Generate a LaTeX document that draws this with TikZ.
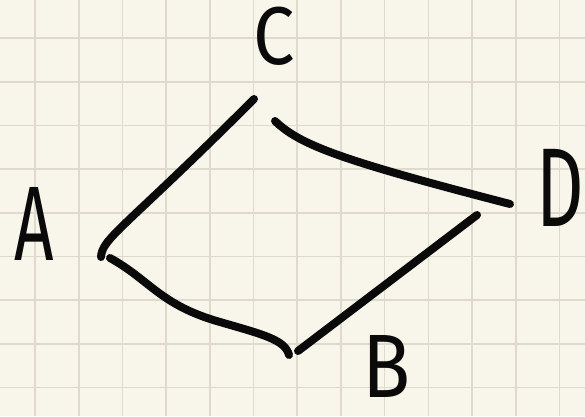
\documentclass[tikz,border=0pt]{standalone}
\usepackage{fontspec}
\setsansfont{Fira Sans}
\usepackage{tikz}
\usetikzlibrary{positioning}
\definecolor{paper}{RGB}{248,246,234}
\definecolor{paperline}{RGB}{222,219,206}
\definecolor{ink}{RGB}{10,10,10}

\begin{document}
\begin{tikzpicture}[
    x=1pt, y=-1pt,
    gridline/.style={paperline, line width=1.6pt},
    edge/.style={ink, line width=8pt, line cap=round, line join=round},
    letter/.style={inner sep=0pt, text=ink, font=\sffamily},
  ]
  % --- paper with grid ---
  \fill[paper] (0,0) rectangle (585,416);
  \useasboundingbox (0,0) rectangle (585,416);
  \foreach \k in {0,...,12} {
    \draw[gridline] ({35+43.7*\k},0) -- ({35+43.7*\k},416);
  }
  \foreach \k in {0,...,8} {
    \draw[gridline] (0,{38+43.7*\k}) -- (585,{38+43.7*\k});
  }

  % --- letters ---
  \node[letter, xscale=0.65, font=\sffamily\fontsize{106}{106}\selectfont] (A) at (34,224) {A};
  \node[letter, xscale=0.9, font=\sffamily\fontsize{82}{82}\selectfont] (C) at (274,36) {C};
  \node[letter, xscale=0.66, font=\sffamily\fontsize{112}{112}\selectfont] (D) at (560,188) {D};
  \node[letter, xscale=0.88, font=\sffamily\fontsize{90}{90}\selectfont] (B) at (387,366) {B};

  % --- corner ends of the strokes ---
  \coordinate (ac1) at (101,257);
  \coordinate (ac2) at (254,99);
  \coordinate (ab1) at (110,258);
  \coordinate (ab2) at (289,355);
  \coordinate (bd1) at (298,351);
  \coordinate (bd2) at (477,215);
  \coordinate (cd1) at (275,121);
  \coordinate (cd2) at (510,204);

  % --- sides ---
  \draw[edge] (ac1) .. controls (102,238) and (125,228) .. (ac2);
  \draw[edge] (ab1) .. controls (150,280) and (160,305) .. (220,322)
              .. controls (265,335) and (285,340) .. (ab2);
  \draw[edge] (bd1) -- (bd2);
  \draw[edge] (cd1) .. controls (300,145) and (340,160) .. (cd2);
\end{tikzpicture}
\end{document}
